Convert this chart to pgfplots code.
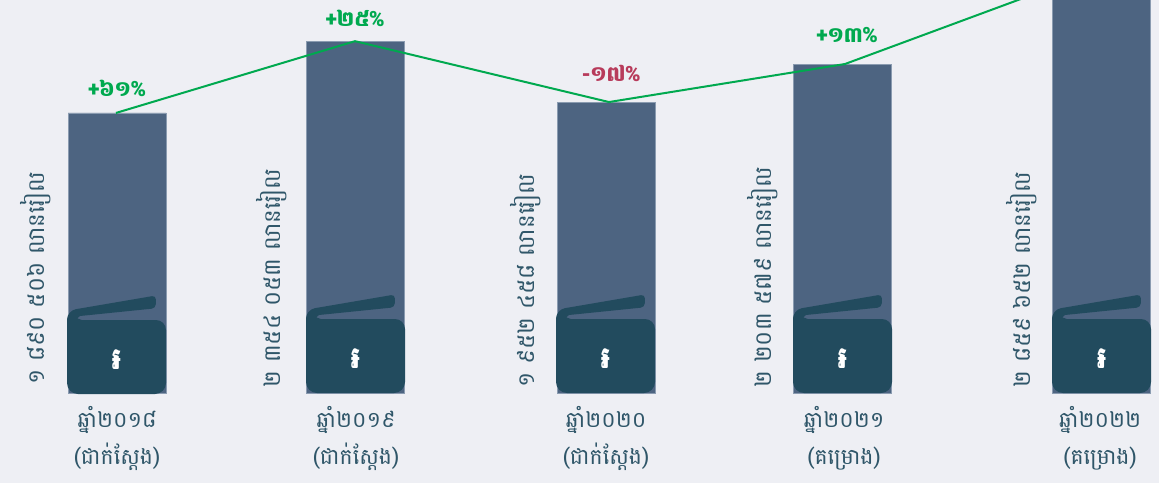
\documentclass[border=0pt]{standalone}
\usepackage{pgfplots}
\pgfplotsset{compat=1.18}
\usepackage{fontspec}
\setmainfont[Script=Khmer]{Battambang}
\definecolor{bg}{HTML}{EEEFF4}
\definecolor{barc}{HTML}{4D6481}
\definecolor{baredge}{HTML}{8A9BB0}
\definecolor{dark}{HTML}{224B5E}
\definecolor{txt}{HTML}{2F5669}
\definecolor{grn}{HTML}{00A94F}
\definecolor{redc}{HTML}{B83B5B}
\newcommand{\wallet}[2]{%
  \begin{scope}[shift={(#1pt,#2pt)},x=1pt,y=1pt]
    \fill[dark,rounded corners=9pt] (0,40) -- (0,83.3) [rounded corners=4pt] -- (89,98.5) -- (88.7,85.7) [sharp corners] -- (13,78) -- (10.3,75.7) -- (14.7,74) [rounded corners=10pt] -- (99,74) [rounded corners=11pt] -- (99,0) -- (0,0) -- cycle;
    \node[text=white,font=\fontsize{30}{30}\selectfont\bfseries] at (49.5,34) {៛};
  \end{scope}}
\newcommand{\vallabel}[3]{\node[rotate=90,anchor=west,text=txt,font=\fontsize{23}{23}\selectfont] at (#1pt,#2pt) {#3};}
\newcommand{\catlabel}[3]{\node[text=txt,align=center,font=\fontsize{22}{37}\selectfont] at (#1pt,#2pt) {ឆ្នាំ#3};}
\begin{document}
\begin{tikzpicture}[x=1pt,y=1pt]
\fill[bg] (0,0) rectangle (1159,483);
\begin{axis}[hide axis,scale only axis,width=1159pt,height=483pt,
  at={(0pt,0pt)},anchor=south west,
  xmin=0,xmax=1159,ymin=-0.6032,ymax=2.634,clip=true]
\addplot[ybar,bar width=98pt,bar shift=0pt,fill=barc,draw=baredge,line width=0.6pt]
  coordinates {(117,1.877)(355,2.358)(606,1.950)(842,2.205)(1101,2.859)};
\addplot[sharp plot,no marks,color=grn,line width=2pt]
  coordinates {(116,1.877)(355,2.358)(609,1.950)(845,2.205)(1100,2.837)};
\end{axis}
\wallet{67}{89}
\wallet{306}{90}
\wallet{556}{90}
\wallet{793}{90}
\wallet{1052}{90}
\vallabel{36}{95}{១ ៨៩០ ៥០៦ លានរៀល}
\vallabel{272}{92}{២ ៣៥៤ ០៥៣ លានរៀល}
\vallabel{526}{92}{១ ៩៥២ ៤៥៨ លានរៀល}
\vallabel{763}{92}{២ ២០៣ ៥៧៩ លានរៀល}
\vallabel{1022}{92}{២ ៨៥៩ ៦៥២ លានរៀល}
\catlabel{117}{45}{២០១៨\\(ជាក់ស្តែង)}
\catlabel{356}{45}{២០១៩\\(ជាក់ស្តែង)}
\catlabel{606}{45}{២០២០\\(ជាក់ស្តែង)}
\catlabel{844}{45}{២០២១\\(គម្រោង)}
\catlabel{1100}{45}{២០២២\\(គម្រោង)}
\node[text=grn,font=\fontsize{21}{21}\selectfont\bfseries] at (117,395) {+៦១\%};
\node[text=grn,font=\fontsize{21}{21}\selectfont\bfseries] at (355,465) {+២៥\%};
\node[text=redc,font=\fontsize{21}{21}\selectfont\bfseries] at (611,410) {-១៧\%};
\node[text=grn,font=\fontsize{21}{21}\selectfont\bfseries] at (847,448) {+១៣\%};
\end{tikzpicture}
\end{document}
